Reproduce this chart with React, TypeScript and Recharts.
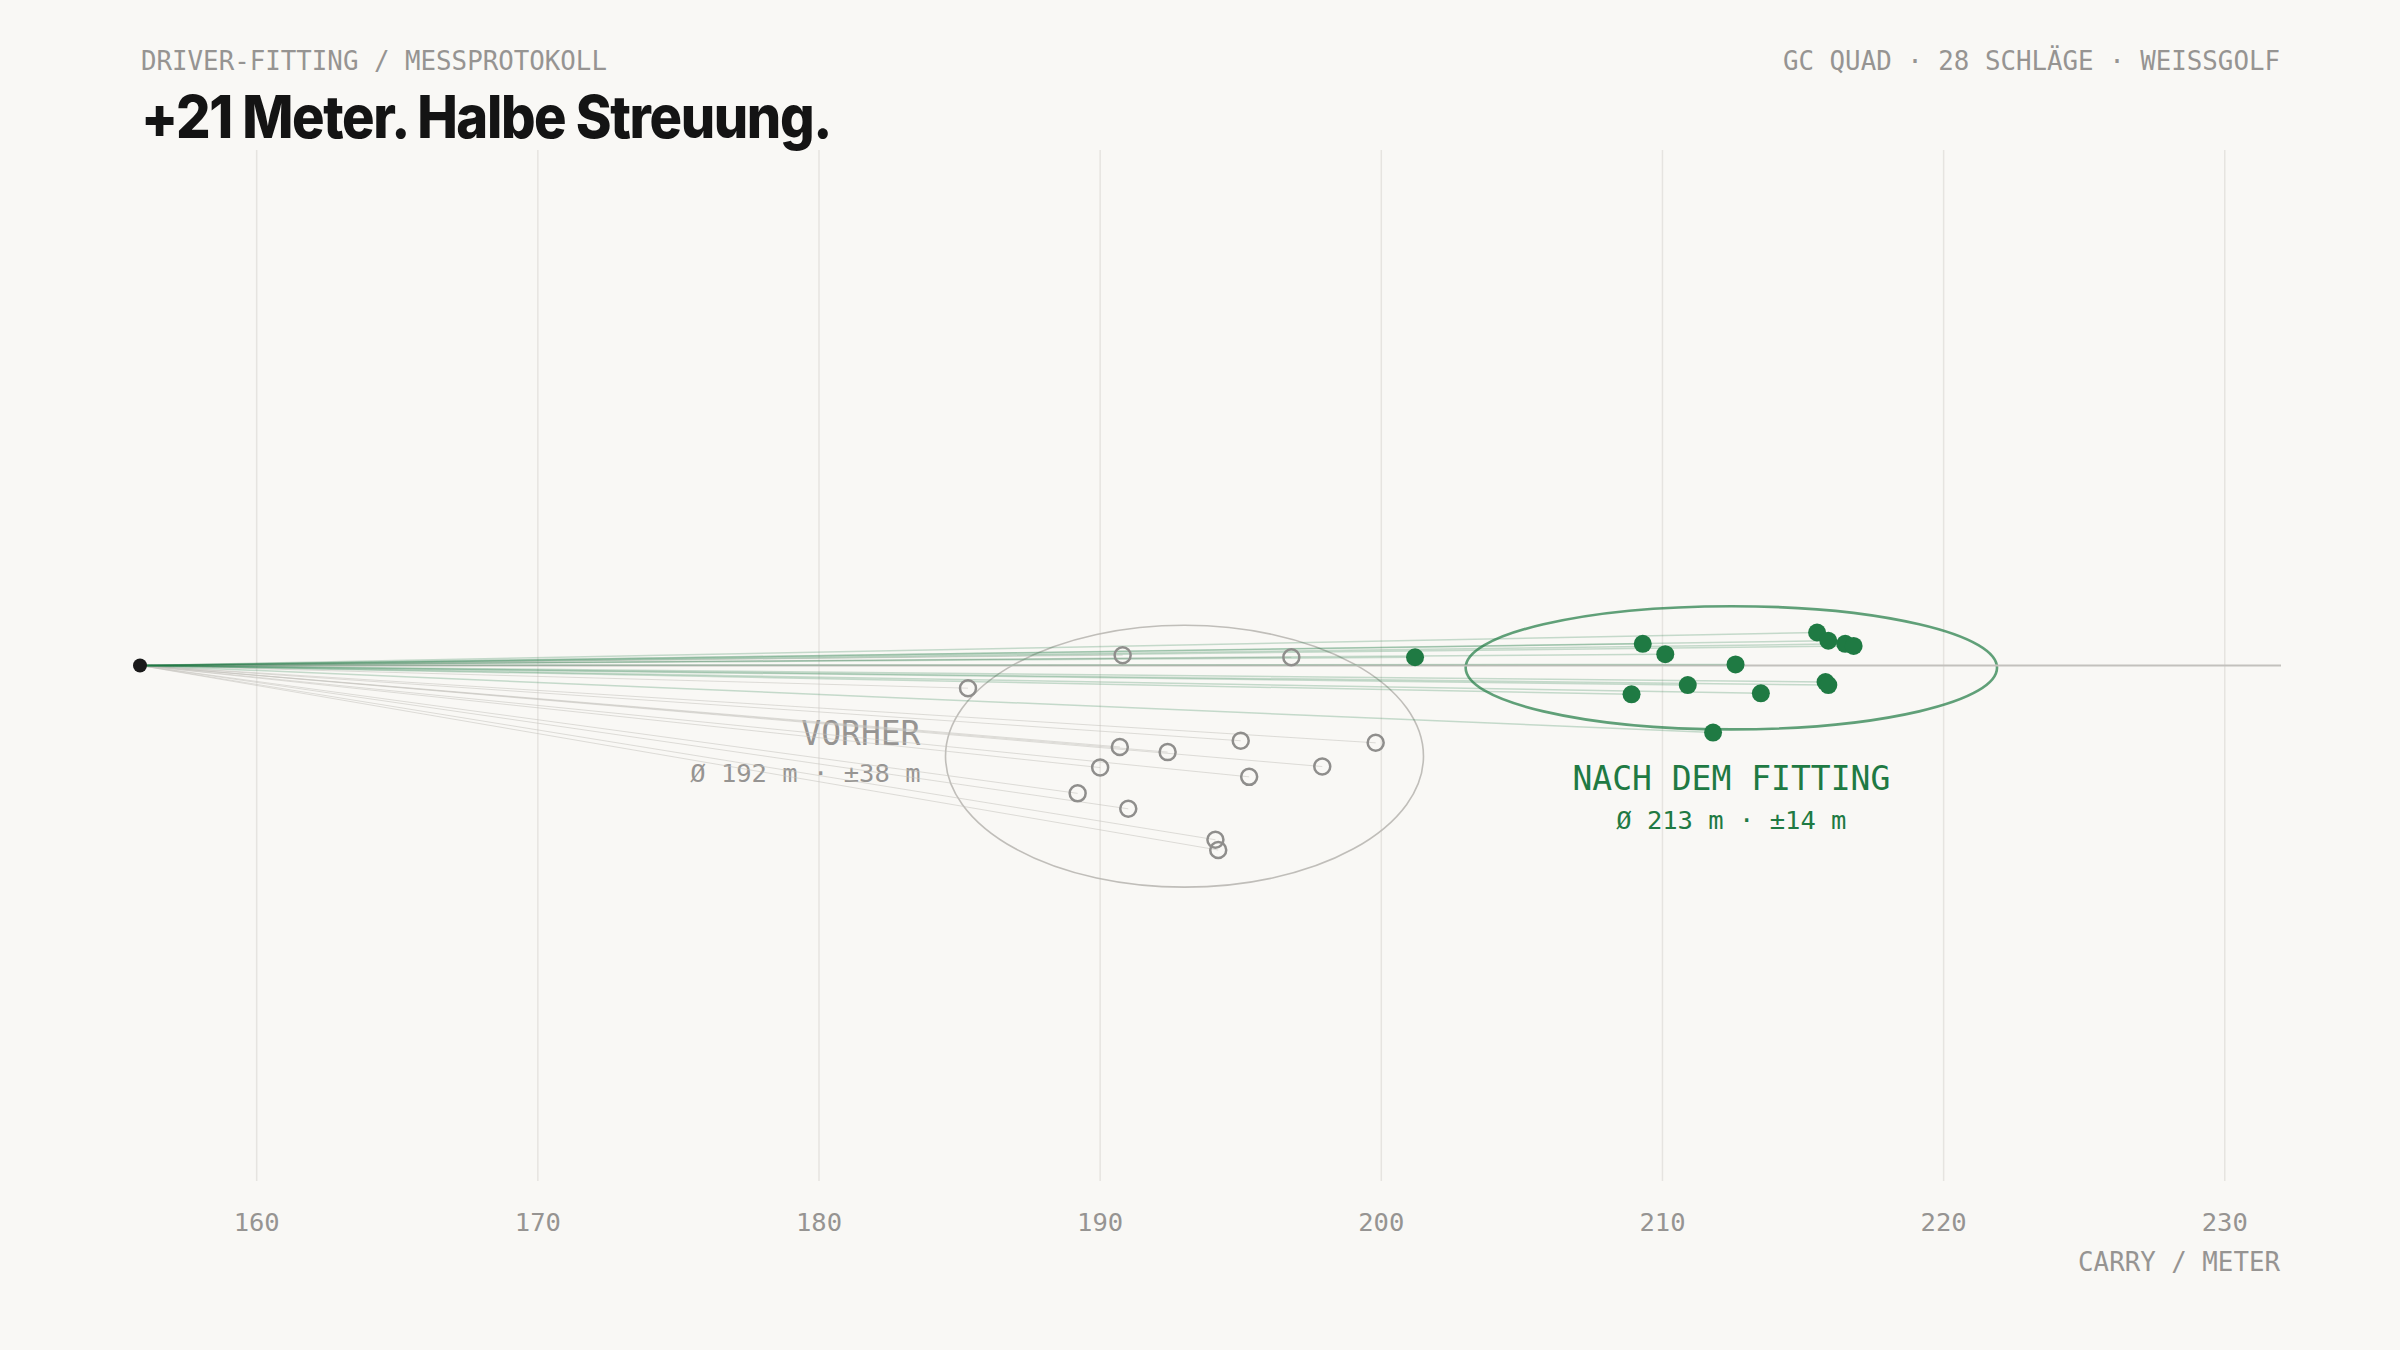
import React from 'react';
import { ScatterChart, Scatter, XAxis, YAxis, CartesianGrid, ReferenceLine, ReferenceArea } from 'recharts';

// carry in metres, side = lateral offset in metres (+ = up in the picture)
const TEE_X = 155.85;
const X_MAX = 232;
const X_TICKS = [160, 170, 180, 190, 200, 210, 220, 230];

const BEFORE_CARRY = [185.3, 190.8, 196.8, 190.7, 192.4, 195.0, 199.8, 190.0, 197.9, 195.3, 189.2, 191.0, 194.1, 194.2];
const BEFORE_SIDE = [-2.2, 1.0, 0.8, -7.9, -8.4, -7.3, -7.5, -9.9, -9.8, -10.8, -12.4, -13.9, -16.9, -17.9];

const AFTER_CARRY = [209.3, 210.1, 212.6, 210.9, 208.9, 213.5, 211.8, 215.5, 215.9, 216.5, 216.8, 215.8, 215.9, 201.2];
const AFTER_SIDE = [2.1, 1.1, 0.1, -1.9, -2.8, -2.7, -6.5, 3.2, 2.4, 2.1, 1.9, -1.6, -1.9, 0.8];

// dispersion ellipses: [min, max] on each axis
const BEFORE_SPREAD_X = [184.5, 201.5];
const BEFORE_SPREAD_Y = [-21.5, 3.9];
const AFTER_SPREAD_X = [203.0, 221.9];
const AFTER_SPREAD_Y = [-6.2, 5.75];

const BEFORE_LABEL = ['VORHER', 'Ø 192 m · ±38 m'];
const AFTER_LABEL = ['NACH DEM FITTING', 'Ø 213 m · ±14 m'];

const BG = '#f9f8f5';
const GREEN = '#1f7a43';
const GREY = '#969492';
const MONO = "'DejaVu Sans Mono', 'Liberation Mono', monospace";

const beforeData = BEFORE_CARRY.map((x, i) => ({ x, y: BEFORE_SIDE[i] }));
const afterData = AFTER_CARRY.map((x, i) => ({ x, y: AFTER_SIDE[i] }));
const teeData = [{ x: TEE_X, y: 0 }];

const Tick = (props: any) => {
  const { x, y, payload } = props;
  return (
    <text x={x} y={y + 50} textAnchor="middle" fill={GREY} fontFamily={MONO} fontSize={25.5}>
      {payload.value}
    </text>
  );
};

const ellipseShape = (stroke: string, width: number, opacity: number) => (p: any) => (
  <ellipse
    cx={p.x + p.width / 2}
    cy={p.y + p.height / 2}
    rx={Math.abs(p.width) / 2}
    ry={Math.abs(p.height) / 2}
    fill="none"
    stroke={stroke}
    strokeWidth={width}
    strokeOpacity={opacity}
  />
);

const beforeLabel = (p: any) => {
  const vb = p.viewBox;
  const xEnd = vb.x - 25;
  const cy = vb.y + vb.height / 2;
  return (
    <g>
      <text x={xEnd} y={cy - 11} textAnchor="end" fill={GREY} fontFamily={MONO} fontSize={33}>{BEFORE_LABEL[0]}</text>
      <text x={xEnd} y={cy + 26} textAnchor="end" fill={GREY} fontFamily={MONO} fontSize={25.5}>{BEFORE_LABEL[1]}</text>
    </g>
  );
};

const afterLabel = (p: any) => {
  const vb = p.viewBox;
  const cx = vb.x + vb.width / 2;
  const bottom = vb.y + vb.height;
  return (
    <g>
      <text x={cx} y={bottom + 61} textAnchor="middle" fill={GREEN} fontFamily={MONO} fontSize={33}>{AFTER_LABEL[0]}</text>
      <text x={cx} y={bottom + 100} textAnchor="middle" fill={GREEN} fontFamily={MONO} fontSize={25.5}>{AFTER_LABEL[1]}</text>
    </g>
  );
};

const App: React.FC = () => {
  return (
    <div style={{ position: 'absolute', left: 0, top: 0, width: 2400, height: 1350, background: BG }}>
      <ScatterChart width={2400} height={1350} margin={{ top: 150, right: 119, bottom: 109, left: 140 }}>
        <CartesianGrid horizontal={false} verticalValues={X_TICKS} stroke="#e6e4e0" strokeWidth={1.5} />
        <XAxis
          type="number"
          dataKey="x"
          domain={[TEE_X, X_MAX]}
          ticks={X_TICKS}
          axisLine={false}
          tickLine={false}
          tickSize={0}
          tickMargin={0}
          height={60}
          tick={<Tick />}
        />
        <YAxis type="number" dataKey="y" domain={[-50, 50]} hide />

        <ReferenceLine y={0} stroke="#c3c1bd" strokeWidth={2} />

        {beforeData.map((d, i) => (
          <ReferenceLine
            key={'b' + i}
            segment={[{ x: TEE_X, y: 0 }, { x: d.x, y: d.y }]}
            stroke="#c4c2be"
            strokeOpacity={0.55}
            strokeWidth={1}
          />
        ))}
        {afterData.map((d, i) => (
          <ReferenceLine
            key={'a' + i}
            segment={[{ x: TEE_X, y: 0 }, { x: d.x, y: d.y }]}
            stroke={GREEN}
            strokeOpacity={0.24}
            strokeWidth={1.5}
          />
        ))}

        <ReferenceArea
          x1={BEFORE_SPREAD_X[0]}
          x2={BEFORE_SPREAD_X[1]}
          y1={BEFORE_SPREAD_Y[0]}
          y2={BEFORE_SPREAD_Y[1]}
          shape={ellipseShape('#b9b7b3', 1.6, 0.9)}
          label={beforeLabel}
        />
        <ReferenceArea
          x1={AFTER_SPREAD_X[0]}
          x2={AFTER_SPREAD_X[1]}
          y1={AFTER_SPREAD_Y[0]}
          y2={AFTER_SPREAD_Y[1]}
          shape={ellipseShape(GREEN, 2.6, 0.7)}
          label={afterLabel}
        />

        <Scatter
          data={beforeData}
          isAnimationActive={false}
          shape={(p: any) => <circle cx={p.cx} cy={p.cy} r={8} fill={BG} fillOpacity={0} stroke="#8f8e8c" strokeWidth={2.5} />}
        />
        <Scatter
          data={afterData}
          isAnimationActive={false}
          shape={(p: any) => <circle cx={p.cx} cy={p.cy} r={9} fill={GREEN} />}
        />
        <Scatter
          data={teeData}
          isAnimationActive={false}
          shape={(p: any) => <circle cx={p.cx} cy={p.cy} r={7} fill="#1a1a1a" />}
        />
      </ScatterChart>

      <svg width={2400} height={1350} style={{ position: 'absolute', left: 0, top: 0, pointerEvents: 'none' }}>
        <text x={141} y={70} fill={GREY} fontFamily={MONO} fontSize={25.8}>DRIVER-FITTING / MESSPROTOKOLL</text>
        <text x={2280} y={70} textAnchor="end" fill={GREY} fontFamily={MONO} fontSize={25.8}>GC QUAD · 28 SCHLÄGE · WEISSGOLF</text>
        <text
          x={141}
          y={138}
          fill="#141414"
          fontFamily="Inter, 'Liberation Sans', sans-serif"
          fontWeight={800}
          fontSize={59}
          letterSpacing={-1.5}
          textLength={690}
          lengthAdjust="spacingAndGlyphs"
        >
          +21 Meter. Halbe Streuung.
        </text>
        <text x={2280} y={1271} textAnchor="end" fill={GREY} fontFamily={MONO} fontSize={25.8}>CARRY / METER</text>
      </svg>
    </div>
  );
};

export default App;
